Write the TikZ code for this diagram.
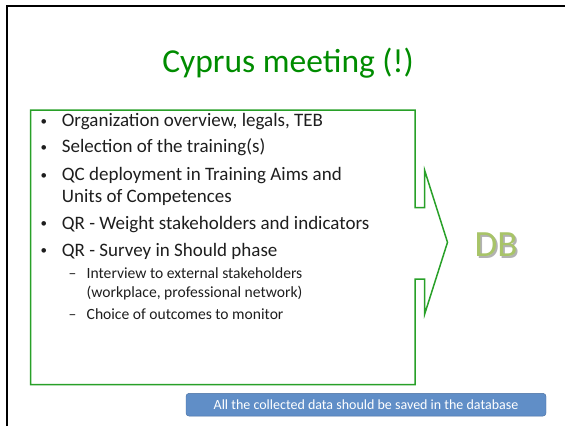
\documentclass[tikz,border=0pt]{standalone}
\usepackage{fontspec}
\setmainfont{Carlito}
\usepackage{tikz}

\definecolor{titlegreen}{RGB}{0,140,0}
\definecolor{boxgreen}{RGB}{40,160,40}
\definecolor{dbgreen}{RGB}{168,196,104}
\definecolor{btnblue}{RGB}{96,142,199}
\definecolor{btnborder}{RGB}{72,110,160}
\definecolor{bodytext}{RGB}{30,30,30}

\begin{document}
\begin{tikzpicture}[x=1pt, y=-1pt, inner sep=0pt,
  item/.style={anchor=base west, text=bodytext, font=\fontsize{19}{22}\selectfont},
  subitem/.style={anchor=base west, text=bodytext, font=\fontsize{15.6}{18}\selectfont}]
\useasboundingbox (0,0) rectangle (565,426);
\draw[line width=2pt] (6.7,426) -- (6.7,6) -- (565,6);
\node (title) at (288,72) [anchor=base, text=titlegreen, font=\fontsize{33.5}{38}\selectfont] {Cyprus meeting (!)};
% callout frame round the list
\draw[boxgreen, line width=1.5pt] (30.7,110) -- (415,110) -- (415,207.7) -- (424.7,207.7) -- (424.7,170.5)
  -- (447.5,242.3) -- (424.7,314) -- (424.7,279) -- (415,279) -- (415,384.5) -- (30.7,384.5) -- cycle;
% bullets
\foreach \y [count=\i] in {126.5,152.5,180.8,229,256}
  \node (dot\i) at (40.5,\y-1.5) [item, font=\fontsize{13}{15}\selectfont] {•};
\node (l1) at (61.7,126.5) [item] {Organization overview, legals, TEB};
\node (l2) at (61.7,152.5) [item] {Selection of the training(s)};
\node (l3) at (61.7,180.8) [item] {QC deployment in Training Aims and};
\node (l4) at (61.7,202.5) [item] {Units of Competences};
\node (l5) at (61.7,229) [item] {QR - Weight stakeholders and indicators};
\node (l6) at (61.7,256) [item] {QR - Survey in Should phase};
\node (dash1) at (68.5,278.5) [subitem] {–};
\node (s1) at (86.5,278.5) [subitem] {Interview to external stakeholders};
\node (s2) at (86.5,297.8) [subitem] {(workplace, professional network)};
\node (dash2) at (68.5,319.5) [subitem] {–};
\node (s3) at (86.5,319.5) [subitem] {Choice of outcomes to monitor};
% DB with its shadow
\node (db) at (496,246) [text=dbgreen, font=\fontsize{37}{40}\selectfont]
  {\rlap{\textcolor{black!30}{\kern1.8pt\raisebox{-1.8pt}{DB}}}DB};
% note
\node (note) at (366,404.7) [draw=btnborder, fill=btnblue, rounded corners=3pt, minimum width=360pt,
  minimum height=22.7pt, text=white, font=\fontsize{14}{16}\selectfont] {All the collected data should be saved in the database};
\end{tikzpicture}
\end{document}
